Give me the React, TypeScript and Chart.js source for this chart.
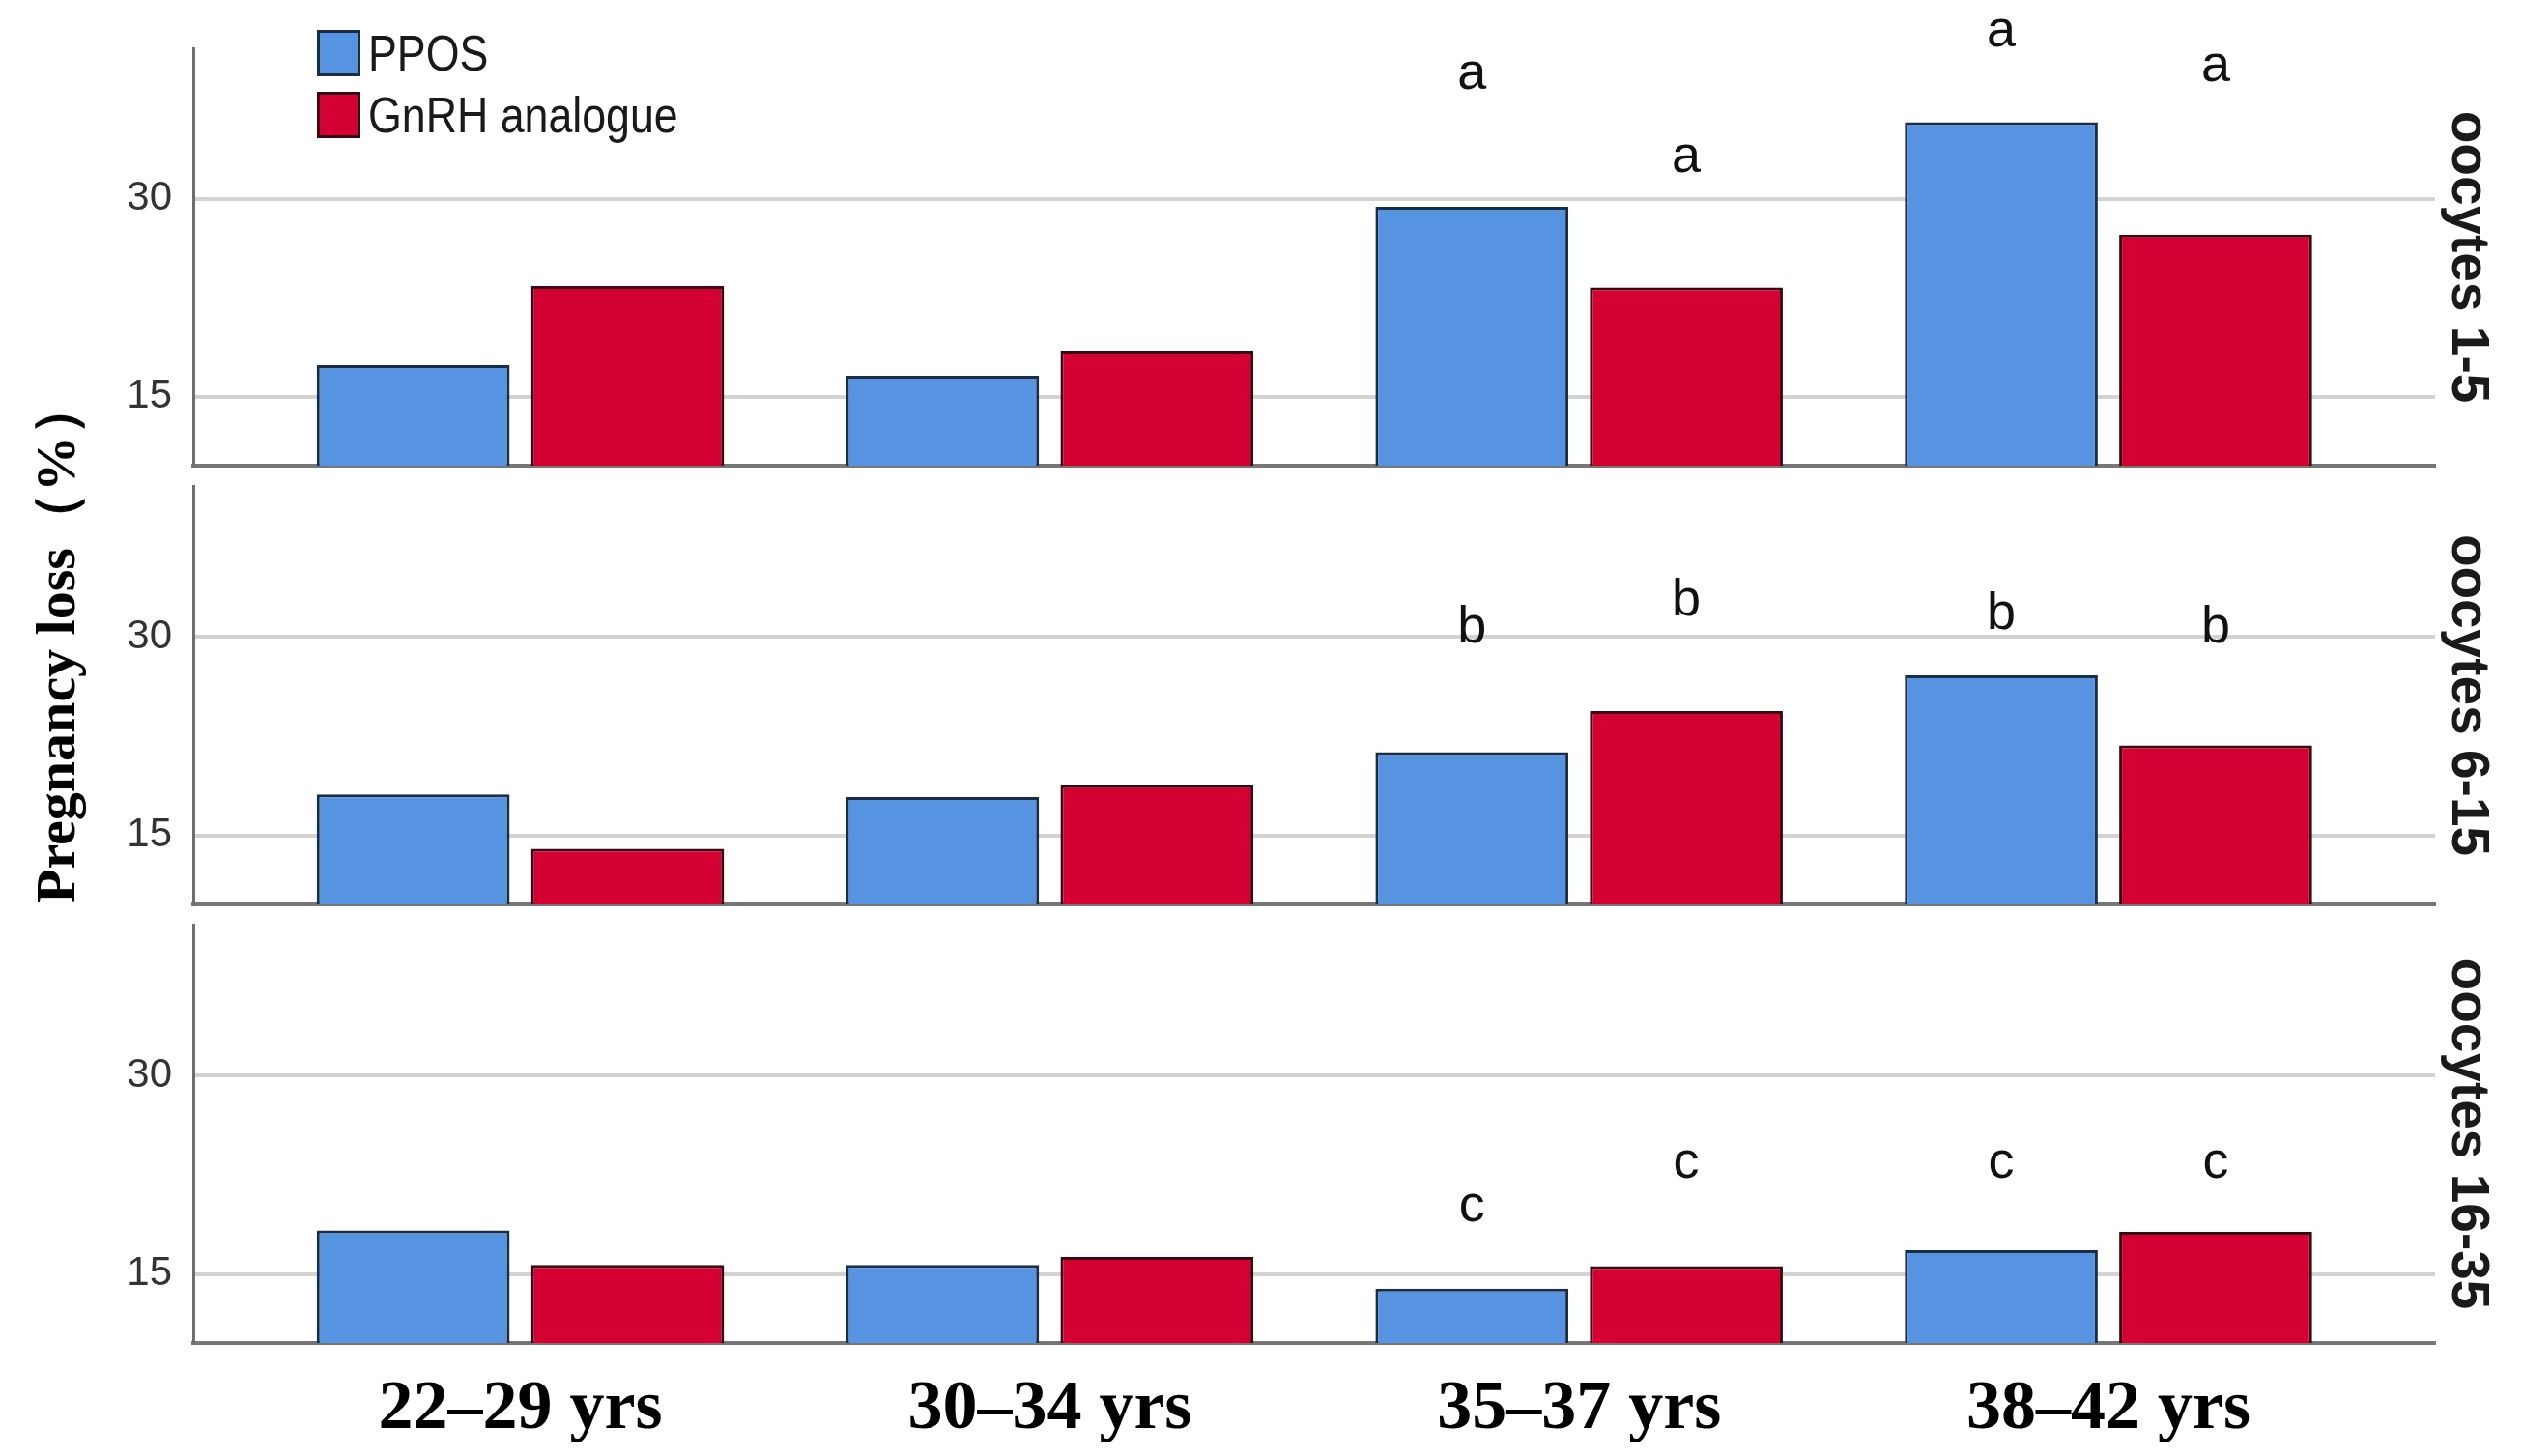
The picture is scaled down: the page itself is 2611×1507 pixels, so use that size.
import React, { useEffect, useRef } from "react";
import { Chart, registerables } from "chart.js";

Chart.register(...registerables);

// ---------- data ----------
const categories = ["22–29 yrs", "30–34 yrs", "35–37 yrs", "38–42 yrs"];
const seriesNames = ["PPOS", "GnRH analogue"];
const panelLabels = ["oocytes 1-5", "oocytes 6-15", "oocytes 16-35"];
const yTickValues = [15, 30];
const yAxisTitle = "Pregnancy loss（%）";

const pposP1 = [17.4, 16.6, 29.4, 35.8];
const gnrhP1 = [23.4, 18.5, 23.3, 27.3];
const pposP2 = [18.1, 17.9, 21.3, 27.1];
const gnrhP2 = [14.0, 18.8, 24.4, 21.8];
const pposP3 = [18.3, 15.7, 13.9, 16.8];
const gnrhP3 = [15.7, 16.3, 15.6, 18.2];

const lettersP1 = ["", "", "a", "a"];
const lettersP2 = ["", "", "b", "b"];
const lettersP3 = ["", "", "c", "c"];
const pposLetterValP1 = [null, null, 39.4, 42.6];
const gnrhLetterValP1 = [null, null, 33.1, 40.0];
const pposLetterValP2 = [null, null, 30.7, 31.7];
const gnrhLetterValP2 = [null, null, 32.7, 30.7];
const pposLetterValP3 = [null, null, 20.1, 23.4];
const gnrhLetterValP3 = [null, null, 23.4, 23.4];

// ---------- style / layout ----------
const W = 2611;
const H = 1507;
const Y_MIN = 9.8;
const Y_MAX = 41.4;
const X_MIN = -0.618;
const X_MAX = 3.617;
const PPOS_FILL = "#5694E2";
const PPOS_EDGE = "#1b2d45";
const GNRH_FILL = "#D50032";
const GNRH_EDGE = "#3b0612";
const SANS_NARROW = '"Liberation Sans Narrow", "Liberation Sans", Arial, sans-serif';
const SANS = '"Liberation Sans", Arial, sans-serif';
const SERIF = '"Liberation Serif", "Times New Roman", serif';

const panels = [
  { top: 0, height: 493, padTop: 50, xH: 11, showX: false, ppos: pposP1, gnrh: gnrhP1, letters: lettersP1, pL: pposLetterValP1, gL: gnrhLetterValP1, label: panelLabels[0] },
  { top: 493, height: 453, padTop: 10, xH: 10, showX: false, ppos: pposP2, gnrh: gnrhP2, letters: lettersP2, pL: pposLetterValP2, gL: gnrhLetterValP2, label: panelLabels[1] },
  { top: 946, height: 561, padTop: 11, xH: 117, showX: true, ppos: pposP3, gnrh: gnrhP3, letters: lettersP3, pL: pposLetterValP3, gL: gnrhLetterValP3, label: panelLabels[2] },
];

const letterPlugin = {
  id: "sigLetters",
  afterDatasetsDraw(chart: any, _args: any, opts: any) {
    const { ctx } = chart;
    const yScale = chart.scales.y;
    ctx.save();
    ctx.font = `${opts.size}px ${opts.family}`;
    ctx.fillStyle = opts.color;
    ctx.textAlign = "center";
    ctx.textBaseline = "middle";
    (opts.sets || []).forEach((set: any, di: number) => {
      const meta = chart.getDatasetMeta(di);
      set.letters.forEach((t: string, i: number) => {
        const v = set.values[i];
        if (!t || v == null) return;
        const el = meta.data[i];
        if (!el) return;
        ctx.fillText(t, el.x, yScale.getPixelForValue(v));
      });
    });
    ctx.restore();
  },
};

function Panel({ p }: { p: (typeof panels)[number] }) {
  const ref = useRef<HTMLCanvasElement>(null);
  useEffect(() => {
    const chart = new Chart(ref.current as HTMLCanvasElement, {
      type: "bar",
      data: {
        datasets: [
          {
            label: seriesNames[0],
            data: p.ppos.map((v, i) => ({ x: i, y: v })),
            backgroundColor: PPOS_FILL,
            borderColor: PPOS_EDGE,
            borderWidth: 3,
            borderSkipped: false,
          },
          {
            label: seriesNames[1],
            data: p.gnrh.map((v, i) => ({ x: i, y: v })),
            backgroundColor: GNRH_FILL,
            borderColor: GNRH_EDGE,
            borderWidth: 3,
            borderSkipped: false,
          },
        ],
      } as any,
      options: {
        animation: false,
        responsive: false,
        layout: { padding: { top: p.padTop, bottom: 0, left: 0, right: 0 } },
        datasets: { bar: { categoryPercentage: 0.81, barPercentage: 0.9 } },
        plugins: {
          legend: { display: false },
          tooltip: { enabled: false },
          sigLetters: {
            size: 54,
            family: SANS_NARROW,
            color: "#111111",
            sets: [
              { letters: p.letters, values: p.pL },
              { letters: p.letters, values: p.gL },
            ],
          },
        } as any,
        scales: {
          x: {
            type: "linear",
            min: X_MIN,
            max: X_MAX,
            offset: false,
            afterBuildTicks: (s: any) => {
              s.ticks = categories.map((_, i) => ({ value: i }));
            },
            afterFit: (s: any) => {
              s.height = p.xH;
            },
            grid: { display: false, drawTicks: false },
            border: { display: true, color: "#767676", width: 4 },
            ticks: {
              display: p.showX,
              padding: 26,
              color: "#000000",
              maxRotation: 0,
              autoSkip: false,
              font: { family: SERIF, size: 72, weight: "bold" },
              callback: (v: any) => categories[v] ?? "",
            },
          },
          y: {
            type: "linear",
            position: "left",
            min: Y_MIN,
            max: Y_MAX,
            beginAtZero: false,
            afterBuildTicks: (s: any) => {
              s.ticks = yTickValues.map((v) => ({ value: v }));
            },
            afterFit: (s: any) => {
              s.width = 200;
              s.paddingTop = 0;
              s.paddingBottom = 0;
            },
            grid: { color: "#d3d3d3", lineWidth: 4, drawTicks: false },
            border: { display: true, color: "#6e6e6e", width: 3 },
            ticks: {
              padding: 22,
              color: "#333333",
              font: { family: SANS_NARROW, size: 42 },
            },
          },
          yr: {
            type: "linear",
            position: "right",
            min: 0,
            max: 1,
            afterFit: (s: any) => {
              s.width = 91;
              s.paddingTop = 0;
              s.paddingBottom = 0;
            },
            grid: { display: false, drawTicks: false },
            border: { display: false },
            ticks: { display: false },
            title: {
              display: true,
              text: p.label,
              color: "#1a1a1a",
              font: { family: SANS, size: 55, weight: "bold" },
              padding: { top: 25, bottom: 0 },
            },
          },
        } as any,
      },
      plugins: [letterPlugin as any],
    });
    return () => chart.destroy();
  }, []);
  return (
    <canvas
      ref={ref}
      width={W}
      height={p.height}
      style={{ position: "absolute", left: 0, top: p.top, width: W, height: p.height }}
    />
  );
}

export default function App() {
  const legendItems = [
    { name: seriesNames[0], fill: PPOS_FILL, edge: PPOS_EDGE, top: 31 },
    { name: seriesNames[1], fill: GNRH_FILL, edge: GNRH_EDGE, top: 95 },
  ];
  return (
    <div
      style={{
        position: "absolute",
        left: 0,
        top: 0,
        width: W,
        height: H,
        background: "#ffffff",
        overflow: "hidden",
      }}
    >
      {panels.map((p, i) => (
        <Panel key={i} p={p} />
      ))}
      {legendItems.map((it, i) => (
        <div key={i} style={{ position: "absolute", left: 328, top: it.top, height: 48, display: "flex", alignItems: "center" }}>
          <div
            style={{
              width: 39,
              height: 42,
              background: it.fill,
              border: `3px solid ${it.edge}`,
            }}
          />
          <span
            style={{
              marginLeft: 8,
              fontFamily: SANS_NARROW,
              fontSize: 52,
              color: "#1a1a1a",
              lineHeight: "48px",
              whiteSpace: "nowrap",
              display: "inline-block",
              transform: "scaleX(0.86)",
              transformOrigin: "left center",
            }}
          >
            {it.name}
          </span>
        </div>
      ))}
      <div
        style={{
          position: "absolute",
          left: 58,
          top: 664,
          transform: "translate(-50%, -50%) rotate(-90deg)",
          fontFamily: SERIF,
          fontWeight: "bold",
          fontSize: 58,
          color: "#000000",
          whiteSpace: "nowrap",
          lineHeight: 1,
        }}
      >
        {yAxisTitle}
      </div>
    </div>
  );
}
